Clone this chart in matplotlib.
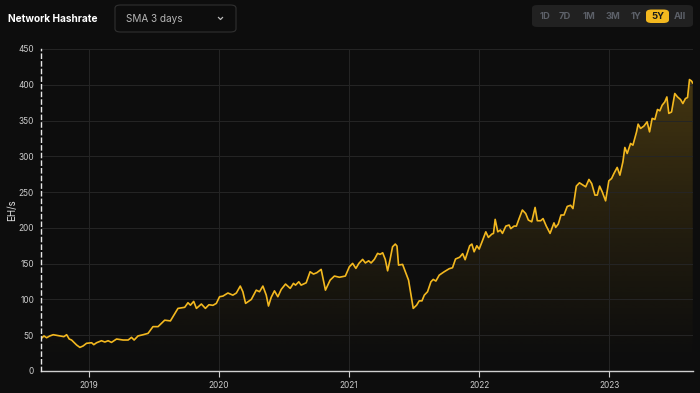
import numpy as np
import matplotlib
matplotlib.use("Agg")
import matplotlib.pyplot as plt
from matplotlib.patches import FancyBboxPatch, Polygon
from matplotlib.lines import Line2D

# ---------------------------------------------------------------------------
# Data: time in decimal years, hashrate in EH/s
# ---------------------------------------------------------------------------
years = [
    2018.637, 2018.655, 2018.675, 2018.700, 2018.726, 2018.777, 2018.808, 2018.829,
    2018.849, 2018.867, 2018.906, 2018.931, 2018.956, 2018.982, 2019.021, 2019.038,
    2019.059, 2019.097, 2019.123, 2019.148, 2019.174, 2019.213, 2019.263, 2019.302,
    2019.328, 2019.348, 2019.378, 2019.417, 2019.455, 2019.493, 2019.532, 2019.583,
    2019.627, 2019.685, 2019.737, 2019.762, 2019.781, 2019.806, 2019.827, 2019.865,
    2019.896, 2019.923, 2019.954, 2019.980, 2020.005, 2020.031, 2020.069, 2020.107,
    2020.134, 2020.164, 2020.184, 2020.205, 2020.249, 2020.287, 2020.312, 2020.338,
    2020.364, 2020.381, 2020.402, 2020.427, 2020.453, 2020.479, 2020.512, 2020.548,
    2020.573, 2020.589, 2020.614, 2020.632, 2020.671, 2020.701, 2020.727, 2020.752,
    2020.786, 2020.819, 2020.855, 2020.888, 2020.926, 2020.972, 2021.003, 2021.028,
    2021.053, 2021.076, 2021.105, 2021.126, 2021.151, 2021.170, 2021.195, 2021.220,
    2021.239, 2021.259, 2021.279, 2021.297, 2021.315, 2021.335, 2021.356, 2021.369,
    2021.381, 2021.412, 2021.438, 2021.458, 2021.477, 2021.494, 2021.520, 2021.540,
    2021.561, 2021.579, 2021.604, 2021.630, 2021.648, 2021.668, 2021.694, 2021.732,
    2021.771, 2021.796, 2021.819, 2021.851, 2021.874, 2021.893, 2021.928, 2021.945,
    2021.962, 2021.983, 2022.001, 2022.026, 2022.052, 2022.072, 2022.098, 2022.111,
    2022.124, 2022.144, 2022.164, 2022.180, 2022.206, 2022.231, 2022.244, 2022.269,
    2022.287, 2022.308, 2022.333, 2022.359, 2022.379, 2022.405, 2022.431, 2022.448,
    2022.474, 2022.492, 2022.517, 2022.546, 2022.563, 2022.576, 2022.589, 2022.609,
    2022.630, 2022.653, 2022.678, 2022.704, 2022.722, 2022.748, 2022.772, 2022.799,
    2022.820, 2022.845, 2022.866, 2022.891, 2022.909, 2022.927, 2022.947, 2022.973,
    2022.998, 2023.019, 2023.037, 2023.062, 2023.083, 2023.106, 2023.121, 2023.139,
    2023.165, 2023.183, 2023.211, 2023.223, 2023.242, 2023.267, 2023.292, 2023.311,
    2023.331, 2023.352, 2023.372, 2023.390, 2023.408, 2023.428, 2023.444, 2023.459,
    2023.480, 2023.505, 2023.526, 2023.549, 2023.567, 2023.587, 2023.603, 2023.618,
    2023.633, 2023.643,
]
hashrate = [
    46.0, 49.0, 46.5, 49.0, 50.7, 49.0, 48.0, 50.7,
    44.7, 43.3, 36.3, 33.0, 35.0, 38.7, 39.5, 36.8,
    39.5, 42.3, 40.5, 42.3, 40.0, 44.7, 43.3, 43.3,
    47.0, 43.3, 49.0, 50.7, 52.6, 62.0, 62.0, 71.0,
    70.0, 87.5, 89.0, 95.4, 92.0, 97.3, 87.5, 93.6,
    87.5, 92.6, 91.8, 94.5, 103.8, 104.7, 109.0, 106.0,
    109.0, 118.7, 110.8, 94.5, 100.0, 113.0, 110.8, 118.7,
    106.0, 90.8, 103.0, 112.0, 103.8, 114.0, 121.5, 115.5,
    122.5, 120.0, 124.7, 120.0, 123.3, 138.7, 135.5, 137.3,
    142.0, 113.0, 127.0, 132.7, 131.0, 132.7, 145.7, 150.4,
    143.4, 150.4, 156.0, 151.0, 154.0, 151.0, 156.0, 164.4,
    163.0, 165.2, 156.0, 140.0, 155.0, 173.6, 177.4, 174.6,
    148.0, 149.0, 136.5, 127.0, 106.0, 87.5, 92.0, 98.0,
    98.0, 106.0, 110.8, 124.7, 128.0, 125.7, 134.0, 138.7,
    143.0, 144.3, 156.5, 159.0, 164.0, 155.5, 175.0, 177.4,
    166.6, 175.0, 170.4, 182.0, 194.5, 186.7, 191.3, 192.3,
    211.9, 194.5, 197.0, 192.3, 202.5, 204.0, 199.0, 202.5,
    202.5, 213.0, 225.0, 220.0, 211.0, 208.5, 228.6, 210.0,
    210.0, 213.0, 202.5, 192.3, 200.7, 207.0, 200.7, 205.3,
    218.0, 218.0, 230.0, 231.6, 227.0, 258.4, 263.0, 259.8,
    257.4, 267.7, 262.0, 245.8, 245.8, 258.4, 250.4, 237.8,
    265.8, 269.0, 276.0, 284.5, 273.7, 292.3, 312.4, 304.0,
    318.0, 315.6, 334.2, 345.0, 339.0, 342.2, 348.2, 334.2,
    353.0, 351.6, 365.5, 363.6, 371.5, 376.0, 383.0, 360.0,
    362.0, 387.8, 383.0, 379.4, 373.8, 380.8, 382.2, 407.3,
    405.4, 402.6,
]
year_ticks = [2019, 2020, 2021, 2022, 2023]
y_ticks = [0, 50, 100, 150, 200, 250, 300, 350, 400, 450]
ranges = ["1D", "7D", "1M", "3M", "1Y", "5Y", "All"]
active_range = "5Y"

BG = "#0d0d0d"
GOLD = "#f3b81f"
TICK = "#cccccc"
GRID = "#252525"

plt.rcParams["font.family"] = ["Inter", "DejaVu Sans"]

W, H = 700, 393
fig = plt.figure(figsize=(7, 3.93), dpi=100, facecolor=BG)

def fx(px):
    return px / W

def fy(py):
    return 1 - py / H

# ---------------------------------------------------------------------------
# Plot area
# ---------------------------------------------------------------------------
ax = fig.add_axes([fx(41), fy(371), fx(693) - fx(41), fy(49) - fy(371)])
ax.set_facecolor(BG)
ax.set_xlim(2018.632, 2023.645)
ax.set_ylim(0, 450)

x = np.array(years)
y = np.array(hashrate)

# vertical gradient fill under the curve (faint at the bottom)
levels = np.linspace(450, 0, 256)
grad = np.zeros((256, 1, 4))
grad[:, 0, :3] = matplotlib.colors.to_rgb(GOLD)
grad[:, 0, 3] = 0.21 * (levels / 365.0) ** 1.25
im = ax.imshow(grad, aspect="auto", extent=[x[0], x[-1], 0, 450],
               origin="upper", zorder=1, interpolation="bilinear")
poly = Polygon(np.column_stack([np.r_[x[0], x, x[-1]], np.r_[0, y, 0]]),
               closed=True, transform=ax.transData, facecolor="none", edgecolor="none")
ax.add_patch(poly)
im.set_clip_path(poly)

ax.plot(x, y, color=GOLD, lw=1.2, zorder=3, solid_joinstyle="round")

ax.set_xticks(year_ticks)
ax.set_xticklabels([str(t) for t in year_ticks])
ax.set_yticks(y_ticks)
ax.grid(True, color=GRID, lw=0.7, zorder=2)

for side in ["top", "right"]:
    ax.spines[side].set_visible(False)
ax.spines["bottom"].set_color("#cfcfcf")
ax.spines["bottom"].set_linewidth(1.0)
ax.spines["left"].set_color("#e8e8e8")
ax.spines["left"].set_linestyle((0, (3, 2.5)))
ax.spines["left"].set_linewidth(1.0)
ax.spines["left"].set_zorder(4)

ax.tick_params(axis="x", colors="#cfcfcf", labelcolor=TICK, labelsize=6, length=4, width=0.8, pad=3)
ax.tick_params(axis="y", length=0, labelcolor=TICK, labelsize=6, pad=5)
ax.set_ylabel("EH/s", color="#e0e0e0", fontsize=7)
ax.yaxis.set_label_coords(-(41 - 17) / 652, 0.5)

# ---------------------------------------------------------------------------
# Header: title, dropdown, range buttons
# ---------------------------------------------------------------------------
fig.text(fx(8), fy(18.5), "Network Hashrate", color="white", fontsize=7.3,
         fontweight="bold", va="center", ha="left")

dd = FancyBboxPatch((fx(115), fy(32)), fx(236) - fx(115), fy(5) - fy(32),
                    boxstyle="round,pad=0,rounding_size=0.008",
                    transform=fig.transFigure, facecolor=BG, edgecolor="#303030", lw=0.8)
fig.add_artist(dd)
fig.text(fx(126), fy(18.5), "SMA 3 days", color="#b5b5b5", fontsize=7.2,
         va="center", ha="left")
fig.add_artist(Line2D([fx(218.5), fx(220.5), fx(222.5)], [fy(17.5), fy(19.5), fy(17.5)],
                      transform=fig.transFigure, color="#bdbdbd", lw=0.9))

panel = FancyBboxPatch((fx(532), fy(27)), fx(693) - fx(532), fy(5) - fy(27),
                       boxstyle="round,pad=0,rounding_size=0.008",
                       transform=fig.transFigure, facecolor="#212121", edgecolor="none")
fig.add_artist(panel)
label_x = [545, 565, 589, 613, 636, 657.5, 679.5]
for lab, px in zip(ranges, label_x):
    col = "#5c6068"
    if lab == active_range:
        hl = FancyBboxPatch((fx(646), fy(23)), fx(669) - fx(646), fy(9.5) - fy(23),
                            boxstyle="round,pad=0,rounding_size=0.008",
                            transform=fig.transFigure, facecolor=GOLD, edgecolor="none")
        fig.add_artist(hl)
        col = "#1a1a1a"
    fig.text(fx(px), fy(16.5), lab, color=col, fontsize=6.8, fontweight="bold",
             va="center", ha="center")

plt.savefig("out.png", dpi=100, facecolor=BG)
plt.close()
